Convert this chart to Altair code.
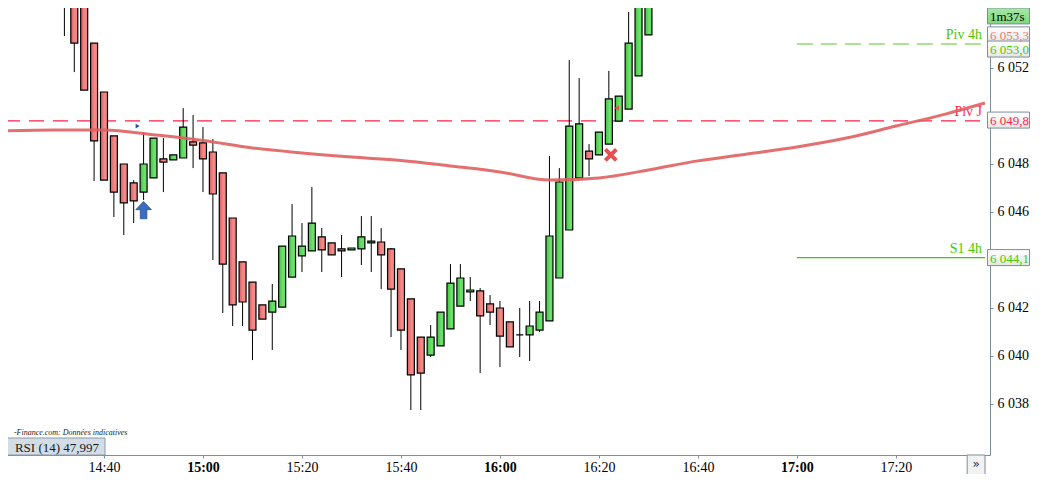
import altair as alt
import pandas as pd

# ---------------- data ----------------
TIMES = ["14:32", "14:34", "14:36", "14:38", "14:40", "14:42", "14:44", "14:46", "14:48", "14:50",
         "14:52", "14:54", "14:56", "14:58", "15:00", "15:02", "15:04", "15:06", "15:08", "15:10",
         "15:12", "15:14", "15:16", "15:18", "15:20", "15:22", "15:24", "15:26", "15:28", "15:30",
         "15:32", "15:34", "15:36", "15:38", "15:40", "15:42", "15:44", "15:46", "15:48", "15:50",
         "15:52", "15:54", "15:56", "15:58", "16:00", "16:02", "16:04", "16:06", "16:08", "16:10",
         "16:12", "16:14", "16:16", "16:18", "16:20", "16:22", "16:24", "16:26", "16:28", "16:30"]
OPEN = [6056.5, 6055.6, 6055.0, 6053.04, 6051.0, 6049.17, 6048.0, 6047.21, 6046.83, 6047.42,
        6048.21, 6048.17, 6048.25, 6048.92, 6048.88, 6048.5, 6047.63, 6045.75, 6043.92, 6043.08,
        6042.13, 6041.83, 6042.04, 6043.29, 6044.17, 6044.38, 6044.96, 6044.71, 6044.46, 6044.42,
        6044.46, 6044.71, 6044.75, 6044.46, 6043.63, 6042.38, 6040.79, 6040.04, 6040.42, 6041.13,
        6042.08, 6042.67, 6042.71, 6042.17, 6042.0, 6041.42, 6040.88, 6040.88, 6041.08, 6041.46,
        6043.25, 6045.25, 6047.42, 6048.54, 6048.38, 6048.83, 6049.79, 6050.29, 6051.67, 6053.38]
HIGH = [6057.0, 6055.8, 6055.0, 6053.04, 6051.0, 6049.17, 6048.0, 6047.33, 6049.33, 6049.08,
        6049.08, 6048.38, 6050.33, 6050.04, 6049.54, 6049.04, 6047.63, 6045.75, 6043.92, 6043.08,
        6042.13, 6043.0, 6044.58, 6046.33, 6045.54, 6047.04, 6045.33, 6044.71, 6045.04, 6044.5,
        6045.83, 6045.83, 6045.33, 6044.5, 6043.63, 6042.38, 6040.79, 6041.29, 6041.83, 6043.83,
        6043.83, 6043.29, 6042.83, 6042.54, 6042.29, 6041.42, 6042.0, 6042.29, 6042.29, 6048.33,
        6047.83, 6052.33, 6051.58, 6048.83, 6049.33, 6051.88, 6050.83, 6054.33, 6055.6, 6055.6]
LOW = [6053.33, 6051.83, 6051.08, 6047.29, 6047.33, 6045.79, 6045.04, 6045.54, 6046.5, 6047.42,
       6046.83, 6048.17, 6048.25, 6047.83, 6046.83, 6044.0, 6041.79, 6041.25, 6041.25, 6039.83,
       6041.54, 6040.25, 6042.04, 6043.29, 6043.5, 6044.38, 6043.5, 6044.21, 6043.29, 6044.42,
       6043.79, 6043.5, 6042.79, 6040.79, 6040.25, 6037.75, 6037.75, 6039.96, 6040.42, 6041.13,
       6042.08, 6042.29, 6039.29, 6041.29, 6039.54, 6040.38, 6039.96, 6039.79, 6041.0, 6041.46,
       6043.25, 6045.25, 6047.42, 6047.5, 6048.38, 6048.83, 6049.79, 6050.29, 6051.67, 6053.38]
CLOSE = [6055.5, 6053.04, 6051.08, 6048.96, 6047.33, 6046.83, 6046.38, 6046.46, 6048.0, 6049.08,
         6048.08, 6048.38, 6049.54, 6048.79, 6048.21, 6046.75, 6043.83, 6042.13, 6042.25, 6041.08,
         6041.54, 6042.29, 6044.58, 6045.0, 6044.58, 6045.54, 6044.42, 6044.21, 6044.38, 6044.5,
         6044.96, 6044.79, 6044.21, 6042.79, 6041.08, 6039.21, 6039.29, 6040.79, 6041.83, 6043.04,
         6043.25, 6042.75, 6041.67, 6041.83, 6040.83, 6040.38, 6040.88, 6041.25, 6041.83, 6045.0,
         6047.25, 6049.58, 6049.67, 6048.21, 6049.33, 6050.71, 6050.83, 6053.04, 6055.5, 6055.3]

MA_TIMES = ["14:20", "14:30", "14:40", "14:50", "15:00", "15:10", "15:20", "15:30", "15:40", "15:50",
            "16:00", "16:10", "16:20", "16:30", "16:40", "16:50", "17:00", "17:10", "17:20", "17:30", "17:38"]
MA_VALUES = [6049.38, 6049.42, 6049.42, 6049.22, 6048.98, 6048.67, 6048.46, 6048.29, 6048.15, 6047.92,
             6047.67, 6047.33, 6047.42, 6047.75, 6048.13, 6048.42, 6048.71, 6049.08, 6049.58, 6050.08, 6050.54]

LEVEL_NAMES = ["Piv J", "Piv 4h", "S1 4h"]
LEVEL_VALUES = [6049.8, 6053.0, 6044.1]
LEVEL_START = ["14:20", "17:00", "17:00"]
LEVEL_COLORS = ["#ff2a50", "#52c400", "#44c800"]

TAG_TEXTS = ["1m37s", "6 053,3", "6 053,0", "6 049,8", "6 044,1"]
TAG_PRICES = [6054.17, 6053.38, 6052.79, 6049.83, 6044.1]
TAG_COLORS = ["#000000", "#ea7a7a", "#44cc00", "#ff1f48", "#44cc00"]

CURRENT_PRICE = 6054.62

SIGNAL_TIMES = ["14:48", "14:46:48", "16:22:24", "16:23:36"]
SIGNAL_PRICES = [6046.08, 6049.58, 6048.38, 6050.33]
SIGNAL_KIND = ["buy", "mark", "exit", "mark2"]

# visible right-axis labels (6 044, 6 050 and 6 054 sit under the price tags)
Y_TICKS = [6038, 6040, 6042, 6046, 6048, 6052]
X_TICK_LABELS = ["14:40", "15:00", "15:20", "15:40", "16:00", "16:20", "16:40", "17:00", "17:20"]

T_START, T_END = "14:20", "17:38"
Y_MAX = 6054.8333
PLOT_W, PLOT_H = 990, 455
PX_Y = 1 / 24.0            # price per pixel
Y_MIN = Y_MAX - PLOT_H * PX_Y

SOURCE_TEXT = "-Finance.com: Données indicatives"
RSI_TEXT = "RSI (14) 47,997"


def mins(s):
    parts = [float(v) for v in s.split(":")]
    return parts[0] * 60 + parts[1] + (parts[2] / 60 if len(parts) > 2 else 0)


FONT = "Liberation Serif"
M0, M1 = mins(T_START), mins(T_END)
PX_X = (M1 - M0) / PLOT_W     # minutes per pixel

xscale = alt.Scale(domain=[M0, M1], nice=False, zero=False)
yscale = alt.Scale(domain=[Y_MIN, Y_MAX], nice=False, zero=False)

xaxis = alt.Axis(
    values=[mins(t) for t in X_TICK_LABELS],
    labelExpr="floor(datum.value/60) + ':' + (datum.value % 60 < 10 ? '0' : '') + (datum.value % 60)",
    labelFontWeight={"condition": {"test": "datum.value % 60 == 0", "value": "bold"}, "value": "normal"},
    labelFont=FONT, labelFontSize=14, labelColor="#000000",
    domainColor="#7d8d9a", tickColor="#7d8d9a", tickSize=3, labelPadding=2,
    grid=False, title=None, labelFlush=False,
)
yaxis = alt.Axis(
    orient="right", values=Y_TICKS,
    labelExpr="replace(format(datum.value, ','), ',', ' ')",
    labelFont=FONT, labelFontSize=14, labelColor="#000000",
    domainColor="#7d8d9a", tickColor="#7d8d9a", tickSize=3, labelPadding=4,
    grid=False, title=None, labelFlush=False,
)


def X(field="m"):
    return alt.X(f"{field}:Q", scale=xscale, axis=xaxis)


def Y(field="p"):
    return alt.Y(f"{field}:Q", scale=yscale, axis=yaxis)


# candles
cdf = pd.DataFrame({"t": TIMES, "open": OPEN, "high": HIGH, "low": LOW, "close": CLOSE})
cdf["m"] = cdf["t"].map(mins)
cdf["p"] = cdf["low"]
cdf["up"] = cdf["close"] >= cdf["open"]

red_grad = alt.LinearGradient(gradient="linear", x1=0, x2=1, y1=0, y2=0, stops=[
    alt.GradientStop(color="#df5c5c", offset=0),
    alt.GradientStop(color="#f28c8c", offset=0.6),
    alt.GradientStop(color="#ee8080", offset=1)])
green_grad = alt.LinearGradient(gradient="linear", x1=0, x2=1, y1=0, y2=0, stops=[
    alt.GradientStop(color="#3cc63c", offset=0),
    alt.GradientStop(color="#6fe06f", offset=0.6),
    alt.GradientStop(color="#62da62", offset=1)])

wicks = alt.Chart(cdf).mark_rule(color="#000000", strokeWidth=1, clip=True).encode(
    x=X(), y=Y(), y2="high:Q")
bodies_red = alt.Chart(cdf).transform_filter("!datum.up").transform_calculate(p="datum.open").mark_bar(
    size=7, fill=red_grad, stroke="#000000", strokeWidth=1.2, clip=True).encode(x=X(), y=Y(), y2="close:Q")
bodies_green = alt.Chart(cdf).transform_filter("datum.up").transform_calculate(p="datum.open").mark_bar(
    size=7, fill=green_grad, stroke="#000000", strokeWidth=1.2, clip=True).encode(x=X(), y=Y(), y2="close:Q")

# current price band / line
band_df = pd.DataFrame({"m": [M0], "m2": [M1], "p": [CURRENT_PRICE], "p2": [Y_MAX + 1]})
band = alt.Chart(band_df).mark_rect(color="#e2f6e2", clip=True).encode(x=X(), x2="m2:Q", y=Y(), y2="p2:Q")
cur_line = alt.Chart(band_df).mark_rule(color="#52cc52", strokeWidth=1.2, clip=True).encode(
    x=X(), x2="m2:Q", y=Y())

# levels
ldf = pd.DataFrame({"name": LEVEL_NAMES, "p": LEVEL_VALUES, "col": LEVEL_COLORS,
                    "m": [mins(s) for s in LEVEL_START], "m2": [M1] * 3})
piv_j = alt.Chart(ldf).transform_filter("datum.name == 'Piv J'").mark_rule(
    color="#ff1f48", strokeWidth=1.3, strokeDash=[15, 9], clip=True).encode(x=X(), x2="m2:Q", y=Y())
piv_4h = alt.Chart(ldf).transform_filter("datum.name == 'Piv 4h'").mark_rule(
    color="#5cc62a", strokeWidth=1.2, strokeDash=[16, 8], clip=True).encode(x=X(), x2="m2:Q", y=Y())
s1_4h = alt.Chart(ldf).transform_filter("datum.name == 'S1 4h'").mark_rule(
    color="#3fc800", strokeWidth=1.3, clip=True).encode(x=X(), x2="m2:Q", y=Y())
level_text = alt.Chart(ldf).transform_calculate(mt="datum.m2").mark_text(
    align="right", baseline="bottom", dx=-3, dy=-2, font=FONT, fontSize=14).encode(
    x=X("mt"), y=Y(), text="name:N", color=alt.Color("col:N", scale=None))

# moving average
mdf = pd.DataFrame({"m": [mins(t) for t in MA_TIMES], "p": MA_VALUES})
ma = alt.Chart(mdf).mark_line(color="#e05f5f", strokeWidth=3, opacity=0.9, interpolate="monotone",
                               clip=True).encode(x=X(), y=Y())

# signals
sdf = pd.DataFrame({"m": [mins(t) for t in SIGNAL_TIMES], "p": SIGNAL_PRICES, "kind": SIGNAL_KIND})
ARROW = "M0,-1 L0.9,-0.05 L0.38,-0.05 L0.38,1 L-0.38,1 L-0.38,-0.05 L-0.9,-0.05 Z"
XSHAPE = ("M-1,-0.6 L-0.6,-1 L0,-0.4 L0.6,-1 L1,-0.6 L0.4,0 L1,0.6 L0.6,1 L0,0.4 L-0.6,1 L-1,0.6 L-0.4,0 Z")
sig_buy = alt.Chart(sdf).transform_filter("datum.kind == 'buy'").mark_point(
    shape=ARROW, size=300, filled=True, fill="#3a6cc0", stroke="#2a4f95", strokeWidth=0.8, opacity=1,
    clip=True).encode(x=X(), y=Y())
sig_mark = alt.Chart(sdf).transform_filter("datum.kind == 'mark'").mark_point(
    shape="triangle-right", size=22, filled=True, color="#2450a0", opacity=1, clip=True).encode(x=X(), y=Y())
sig_exit = alt.Chart(sdf).transform_filter("datum.kind == 'exit'").mark_point(
    shape=XSHAPE, size=190, filled=True, color="#e65050", opacity=1, clip=True).encode(x=X(), y=Y())
sig_mark2 = alt.Chart(sdf).transform_filter("datum.kind == 'mark2'").mark_point(
    shape="triangle-left", size=28, filled=True, color="#e65050", opacity=1, clip=True).encode(x=X(), y=Y())

# price tags on the right axis
tdf = pd.DataFrame({"txt": TAG_TEXTS, "p": TAG_PRICES, "col": TAG_COLORS})
tdf["m"] = M1 + 2.5 * PX_X
tdf["m2"] = M1 + 45 * PX_X
tdf["p_lo"] = tdf["p"] - 8 * PX_Y
tdf["p_hi"] = tdf["p"] + 8 * PX_Y
tdf["mt"] = M1 + 5 * PX_X
tag_grad = alt.LinearGradient(gradient="linear", x1=0, x2=0, y1=0, y2=1, stops=[
    alt.GradientStop(color="#ffffff", offset=0), alt.GradientStop(color="#e6e6e6", offset=1)])
live_grad = alt.LinearGradient(gradient="linear", x1=0, x2=0, y1=0, y2=1, stops=[
    alt.GradientStop(color="#a6e8a6", offset=0), alt.GradientStop(color="#7fd87f", offset=1)])
tag_boxes = alt.Chart(tdf).transform_filter("datum.txt != '1m37s'").transform_calculate(pp="datum.p_lo").mark_rect(
    fill=tag_grad, stroke="#7d8d9a", strokeWidth=1, clip=False).encode(x=X(), x2="m2:Q", y=Y("pp"), y2="p_hi:Q")
live_box = alt.Chart(tdf).transform_filter("datum.txt == '1m37s'").transform_calculate(pp="datum.p_lo").mark_rect(
    fill=live_grad, stroke="#7d8d9a", strokeWidth=1, clip=False).encode(x=X(), x2="m2:Q", y=Y("pp"), y2="p_hi:Q")
tag_text = alt.Chart(tdf).mark_text(align="left", baseline="middle", font=FONT, fontSize=13, dy=1,
                                    clip=False).encode(
    x=X("mt"), y=Y(), text="txt:N", color=alt.Color("col:N", scale=None))

# bottom-left info
info_df = pd.DataFrame({"m": [M0 + 9 * PX_X], "p": [Y_MIN + 22 * PX_Y], "txt": [SOURCE_TEXT]})
info = alt.Chart(info_df).mark_text(align="left", baseline="middle", font=FONT, fontSize=8,
                                    fontStyle="italic", color="#1a1a1a", clip=False).encode(
    x=X(), y=Y(), text="txt:N")
rsi_df = pd.DataFrame({"m": [M0 - 2 * PX_X], "m2": [M0 + 101 * PX_X], "p": [Y_MIN],
                       "p2": [Y_MIN + 17 * PX_Y], "mt": [M0 + 10 * PX_X], "pt": [Y_MIN + 8.5 * PX_Y],
                       "txt": [RSI_TEXT]})
rsi_box = alt.Chart(rsi_df).mark_rect(fill="#d3dde5", stroke="#8a9aa8", strokeWidth=1, clip=False).encode(
    x=X(), x2="m2:Q", y=Y(), y2="p2:Q")
rsi_text = alt.Chart(rsi_df).transform_calculate(p="datum.pt").mark_text(
    align="left", baseline="middle", font=FONT, fontSize=13, color="#1a1a1a", dy=1, clip=False).encode(
    x=X("mt"), y=Y(), text="txt:N")

# scroll button at bottom right
btn_df = pd.DataFrame({"m": [M1 - 18 * PX_X], "m2": [M1], "p": [Y_MIN - 22 * PX_Y], "p2": [Y_MIN],
                       "mt": [M1 - 9 * PX_X], "pt": [Y_MIN - 9 * PX_Y], "txt": ["»"]})
btn_box = alt.Chart(btn_df).mark_rect(fill="#f2f2f2", stroke="#7d8d9a", strokeWidth=1, clip=False).encode(
    x=X(), x2="m2:Q", y=Y(), y2="p2:Q")
btn_text = alt.Chart(btn_df).transform_calculate(p="datum.pt").mark_text(
    align="center", baseline="middle", font="DejaVu Sans", fontSize=12, color="#333333", clip=False).encode(
    x=X("mt"), y=Y(), text="txt:N")

chart = alt.layer(
    band, cur_line, piv_j, piv_4h, s1_4h, level_text,
    wicks, bodies_red, bodies_green, ma,
    sig_buy, sig_mark, sig_exit, sig_mark2,
    tag_boxes, live_box, tag_text, info, rsi_box, rsi_text, btn_box, btn_text,
).properties(
    width=PLOT_W, height=PLOT_H,
    padding={"left": -8, "top": -8, "right": 46, "bottom": 19},
    autosize=alt.AutoSizeParams(type="none"),
    background="#ffffff",
).configure_view(stroke=None)

chart.save("out.html", embed_options={"renderer": "svg", "actions": False})
